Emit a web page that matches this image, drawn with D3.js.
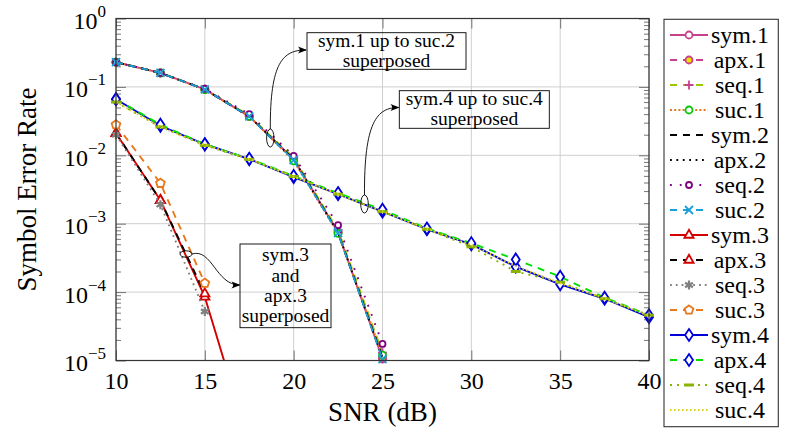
<!DOCTYPE html>
<html><head><meta charset="utf-8">
<script src="https://cdn.jsdelivr.net/npm/d3@7"></script>
<style>
body{margin:0;background:#fff}
text{font-family:"Liberation Serif","Times New Roman",serif;fill:#000}
</style>
</head><body>
<svg id="c" width="788" height="439"></svg>
<script>
// ---------------- DATA ----------------
const snrG1 = [10, 12.5, 15, 17.5, 20, 22.5, 25];
const snrG3 = [10, 12.5, 15, 17.5];
const snrG4 = [10, 12.5, 15, 17.5, 20, 22.5, 25, 27.5, 30, 32.5, 35, 37.5, 40];

const sym1 = [0.23, 0.16, 0.092, 0.037, 0.0088, 7.5e-4, 1.05e-5];
const apx1 = [0.23, 0.16, 0.092, 0.037, 0.0088, 7.5e-4, 1.1e-5];
const seq1 = [0.23, 0.16, 0.093, 0.038, 0.0092, 8.0e-4, 1.3e-5];
const suc1 = [0.23, 0.16, 0.091, 0.037, 0.0083, 7.2e-4, 1.2e-5];
const sym2 = [0.23, 0.16, 0.092, 0.037, 0.0087, 7.4e-4, 1.1e-5];
const apx2 = [0.23, 0.16, 0.092, 0.037, 0.0087, 7.4e-4, 1.1e-5];
const seq2 = [0.23, 0.16, 0.094, 0.040, 0.0098, 9.5e-4, 1.75e-5];
const suc2 = [0.23, 0.16, 0.092, 0.037, 0.0085, 7.3e-4, 1.05e-5];

const sym3 = [0.021, 0.0022, 8.5e-5, 6e-7];
const apx3 = [0.021, 0.0022, 9.5e-5];
const seq3 = [0.020, 0.0019, 5.2e-5];
const suc3 = [0.028, 0.0039, 1.35e-4];

const sym4 = [0.066, 0.027, 0.0145, 0.0088, 0.0048, 0.0027, 0.0015, 8.3e-4, 5.0e-4, 2.35e-4, 1.3e-4, 8.0e-5, 4.3e-5];
const apx4 = [0.066, 0.028, 0.0145, 0.0089, 0.0050, 0.0028, 0.0016, 8.5e-4, 5.2e-4, 3.0e-4, 1.68e-4, 8.3e-5, 4.6e-5];
const seq4 = [0.060, 0.026, 0.0140, 0.0087, 0.0049, 0.0027, 0.0015, 8.3e-4, 4.6e-4, 2.0e-4, 1.4e-4, 8.0e-5, 4.6e-5];
const suc4 = [0.060, 0.026, 0.0142, 0.0088, 0.0049, 0.0027, 0.0015, 8.4e-4, 4.9e-4, 2.4e-4, 1.35e-4, 8.1e-5, 4.5e-5];

const seriesNames = ["sym.1","apx.1","seq.1","suc.1","sym.2","apx.2","seq.2","suc.2",
                     "sym.3","apx.3","seq.3","suc.3","sym.4","apx.4","seq.4","suc.4"];
const xTicks = [10, 15, 20, 25, 30, 35, 40];
const yTickExps = [0, -1, -2, -3, -4, -5];
const xLabel = "SNR (dB)";
const yLabel = "Symbol Error Rate";
const note1 = ["sym.1 up to suc.2", "superposed"];
const note2 = ["sym.4 up to suc.4", "superposed"];
const note3 = ["sym.3", "and", "apx.3", "superposed"];

// ---------------- STYLES ----------------
const MAG = "#c8408c", YG = "#9cc800", ORA = "#e87818", GRN = "#00c800", PUR = "#800080",
      CYA = "#1aa0d8", RED = "#d40000", GRY = "#808080", BLU = "#0000d8", LGR = "#00e000",
      OLV = "#88b400", YEL = "#e0d020";
const styles = [
  {x: snrG1, y: sym1, c: MAG, dash: null,    m: "circle",  ms: MAG, mf: "#fff"},
  {x: snrG1, y: apx1, c: MAG, dash: "7,6",   m: "circle",  ms: MAG, mf: "#f0e000"},
  {x: snrG1, y: seq1, c: YG,  dash: "7,6",   m: "plus",    ms: MAG, mf: "none"},
  {x: snrG1, y: suc1, c: ORA, dash: "2,2.2", m: "circle",  ms: GRN, mf: "#fff"},
  {x: snrG1, y: sym2, c: "#000", dash: "7,6", m: null},
  {x: snrG1, y: apx2, c: "#000", dash: "1.8,4.6", m: null},
  {x: snrG1, y: seq2, c: PUR, dash: "1.8,8", m: "circle",  ms: PUR, mf: "#fff", r: 3},
  {x: snrG1, y: suc2, c: CYA, dash: "7,6",   m: "cross",   ms: CYA, mf: "none"},
  {x: snrG3, y: sym3, c: RED, dash: null,    m: "triangle",ms: RED, mf: "#fff"},
  {x: snrG3, y: apx3, c: "#000", dash: "7,6", m: "triangle",ms: RED, mf: "#fff"},
  {x: snrG3, y: seq3, c: GRY, dash: "1.8,4", m: "star",    ms: GRY, mf: GRY},
  {x: snrG3, y: suc3, c: ORA, dash: "7,6",   m: "pentagon",ms: ORA, mf: "#fff"},
  {x: snrG4, y: sym4, c: BLU, dash: null,    m: "diamond", ms: BLU, mf: "#fff"},
  {x: snrG4, y: apx4, c: LGR, dash: "7,6",   m: "diamond", ms: BLU, mf: "#fff"},
  {x: snrG4, y: seq4, c: OLV, dash: "2,5",   m: "bar",     ms: OLV, mf: "none"},
  {x: snrG4, y: suc4, c: YEL, dash: "1.6,2.4", m: null}
];

// ---------------- LAYOUT ----------------
const svg = d3.select("#c");
const L = 116, R = 649, T = 18.5, B = 360.5;
const x = d3.scaleLinear().domain([10, 40]).range([L, R]);
const y = d3.scaleLog().domain([1e-5, 1]).range([B, T]);

const defs = svg.append("defs");
defs.append("clipPath").attr("id", "clip").append("rect")
  .attr("x", L).attr("y", T).attr("width", R - L).attr("height", B - T);
defs.append("marker").attr("id", "arr").attr("viewBox", "0 0 10 10")
  .attr("refX", 9).attr("refY", 5).attr("markerWidth", 9).attr("markerHeight", 9)
  .attr("markerUnits", "userSpaceOnUse").attr("orient", "auto")
  .append("path").attr("d", "M0,1 Q4,5 0,9 L10,5 Z").attr("fill", "#000");

// grid
const grid = svg.append("g").attr("stroke", "#cfcfcf").attr("stroke-width", 1);
xTicks.forEach(t => grid.append("line").attr("x1", x(t)).attr("x2", x(t)).attr("y1", T).attr("y2", B));
yTickExps.forEach(e => grid.append("line").attr("x1", L).attr("x2", R).attr("y1", y(Math.pow(10, e))).attr("y2", y(Math.pow(10, e))));

// ticks (inside) using d3 axes
const majorY = yTickExps.map(e => Math.pow(10, e));
const minorY = [];
for (let e = -5; e < 0; e++) for (let k = 2; k <= 9; k++) minorY.push(k * Math.pow(10, e));
function tickStyle(g) {
  g.select(".domain").remove();
  g.selectAll("line").attr("stroke", "#555").attr("stroke-width", 0.8);
  g.selectAll("text").remove();
}
svg.append("g").attr("transform", `translate(${L},0)`).call(d3.axisRight(y).tickValues(majorY).tickSize(10)).call(tickStyle);
svg.append("g").attr("transform", `translate(${L},0)`).call(d3.axisRight(y).tickValues(minorY).tickSize(5)).call(tickStyle);
svg.append("g").attr("transform", `translate(${R},0)`).call(d3.axisLeft(y).tickValues(majorY).tickSize(10)).call(tickStyle);
svg.append("g").attr("transform", `translate(${R},0)`).call(d3.axisLeft(y).tickValues(minorY).tickSize(5)).call(tickStyle);
svg.append("g").attr("transform", `translate(0,${B})`).call(d3.axisTop(x).tickValues(xTicks).tickSize(10)).call(tickStyle);
svg.append("g").attr("transform", `translate(0,${T})`).call(d3.axisBottom(x).tickValues(xTicks).tickSize(10)).call(tickStyle);

// tick labels
const xl = svg.append("g").attr("transform", `translate(0,${B})`)
  .call(d3.axisBottom(x).tickValues(xTicks).tickSize(0).tickPadding(0).tickFormat(d3.format("d")));
xl.select(".domain").remove();
xl.selectAll("text").attr("font-size", 24).attr("dy", null).attr("y", 28)
  .style("font-family", '"Liberation Serif",serif').attr("fill", "#000");

const yl = svg.append("g").attr("transform", `translate(${L},0)`)
  .call(d3.axisLeft(y).tickValues(majorY).tickSize(0).tickFormat(() => ""));
yl.select(".domain").remove();
yl.selectAll(".tick text").each(function(d) {
  const t = d3.select(this).attr("x", -10).attr("dy", null).attr("y", 10)
    .attr("text-anchor", "end").attr("font-size", 24).attr("fill", "#000")
    .style("font-family", '"Liberation Serif",serif');
  const e = Math.round(Math.log10(d));
  t.text(null);
  t.append("tspan").text("10");
  t.append("tspan").attr("font-size", 17).attr("dy", -12).text(e === 0 ? "0" : "\u2212" + Math.abs(e));
});

// series
const plot = svg.append("g");
const line = d3.line().x(d => x(d[0])).y(d => y(d[1]));
function markerPath(type, r) {
  switch (type) {
    case "plus": return `M${-r},0H${r}M0,${-r}V${r}`;
    case "cross": return `M${-r},${-r}L${r},${r}M${-r},${r}L${r},${-r}`;
    case "triangle": return `M0,${-r*1.15}L${r},${r*0.6}L${-r},${r*0.6}Z`;
    case "diamond": return `M0,${-r*1.5}L${r},0L0,${r*1.5}L${-r},0Z`;
    case "bar": return `M${-r*1.1},0H${r*1.1}`;
    case "pentagon": {
      let p = "";
      for (let i = 0; i < 5; i++) {
        const a = -Math.PI / 2 + i * 2 * Math.PI / 5;
        p += (i ? "L" : "M") + (r * Math.cos(a)).toFixed(2) + "," + (r * Math.sin(a)).toFixed(2);
      }
      return p + "Z";
    }
    case "star": {
      let p = "";
      for (let i = 0; i < 3; i++) {
        const a = Math.PI / 2 + i * Math.PI / 3;
        p += `M${(r*Math.cos(a)).toFixed(2)},${(r*Math.sin(a)).toFixed(2)}L${(-r*Math.cos(a)).toFixed(2)},${(-r*Math.sin(a)).toFixed(2)}`;
      }
      return p;
    }
  }
  return "";
}
function drawMarker(g, s, cx, cy) {
  if (!s.m) return;
  if (s.m === "circle") {
    g.append("circle").attr("cx", cx).attr("cy", cy).attr("r", s.r || 3.5)
      .attr("fill", s.mf).attr("stroke", s.ms).attr("stroke-width", 1.8);
  } else {
    const sz = {plus: 4.5, cross: 4, triangle: 4.6, diamond: 4, bar: 4.5, pentagon: 4.6, star: 4.5}[s.m];
    g.append("path").attr("d", markerPath(s.m, sz)).attr("transform", `translate(${cx},${cy})`)
      .attr("fill", s.mf).attr("stroke", s.ms)
      .attr("stroke-width", s.m === "bar" ? 3 : (s.m === "star" ? 2.2 : 1.8))
      .attr("stroke-linejoin", "miter");
  }
}
styles.forEach(s => {
  const pts = s.x.map((v, i) => [v, s.y[i]]).filter(d => d[1] !== undefined);
  const g = plot.append("g");
  g.append("path").attr("d", line(pts)).attr("clip-path", "url(#clip)")
    .attr("fill", "none").attr("stroke", s.c).attr("stroke-width", 1.9)
    .attr("stroke-dasharray", s.dash).attr("stroke-linejoin", "round");
  pts.filter(d => d[1] >= 1e-5 && d[1] <= 1).forEach(d => drawMarker(g, s, x(d[0]), y(d[1])));
});

// frame
svg.append("rect").attr("x", L).attr("y", T).attr("width", R - L).attr("height", B - T)
  .attr("fill", "none").attr("stroke", "#333").attr("stroke-width", 1.2);

// axis labels
svg.append("text").attr("x", (L + R) / 2).attr("y", 421).attr("text-anchor", "middle")
  .attr("font-size", 27).text(xLabel);
svg.append("text").attr("transform", `translate(36,${(T + B) / 2}) rotate(-90)`)
  .attr("text-anchor", "middle").attr("font-size", 27).text(yLabel);

// annotations
const ann = svg.append("g");
function box(x0, y0, x1, y1, lines, lh, fs) {
  ann.append("rect").attr("x", x0).attr("y", y0).attr("width", x1 - x0).attr("height", y1 - y0)
    .attr("fill", "none").attr("stroke", "#000").attr("stroke-width", 0.9);
  const cy = (y0 + y1) / 2, n = lines.length;
  lines.forEach((t, i) => ann.append("text").attr("x", (x0 + x1) / 2)
    .attr("y", cy + (i - (n - 1) / 2) * lh + fs * 0.3).attr("text-anchor", "middle")
    .attr("font-size", fs).text(t));
}
box(307, 32.7, 466, 69.3, note1, 20, 19.5);
box(399.3, 90.7, 549.3, 128.3, note2, 20, 19.5);
box(240, 244, 331, 327.7, note3, 20.3, 19.5);

ann.append("ellipse").attr("cx", 270.3).attr("cy", 138).attr("rx", 3.7).attr("ry", 9)
  .attr("fill", "none").attr("stroke", "#000").attr("stroke-width", 0.9);
ann.append("ellipse").attr("cx", 364.5).attr("cy", 204).attr("rx", 3.8).attr("ry", 9)
  .attr("fill", "none").attr("stroke", "#000").attr("stroke-width", 0.9);
ann.append("ellipse").attr("cx", 186).attr("cy", 254).attr("rx", 6).attr("ry", 3.2)
  .attr("fill", "none").attr("stroke", "#000").attr("stroke-width", 0.9);
[["M270.3,129 C270,62 283,50 306,50"], ["M364.5,195 C364,122 377,107.5 398.5,107.5"],
 ["M192,254 C212,248 216,285 239.5,285"]].forEach(d =>
  ann.append("path").attr("d", d[0]).attr("fill", "none").attr("stroke", "#000")
    .attr("stroke-width", 0.9).attr("marker-end", "url(#arr)"));

// legend
const lg = svg.append("g");
lg.append("rect").attr("x", 664).attr("y", 19.3).attr("width", 114.3).attr("height", 407.4)
  .attr("fill", "#fff").attr("stroke", "#333").attr("stroke-width", 1.1);
styles.forEach((s, i) => {
  const cy = 35 + i * 25;
  lg.append("line").attr("x1", 670).attr("x2", 708).attr("y1", cy).attr("y2", cy)
    .attr("stroke", s.c).attr("stroke-width", 1.9).attr("stroke-dasharray", s.dash);
  drawMarker(lg, s, 689, cy);
  lg.append("text").attr("x", 740).attr("y", cy + 7.5).attr("text-anchor", "middle")
    .attr("font-size", 24).text(seriesNames[i]);
});
</script>
</body></html>
